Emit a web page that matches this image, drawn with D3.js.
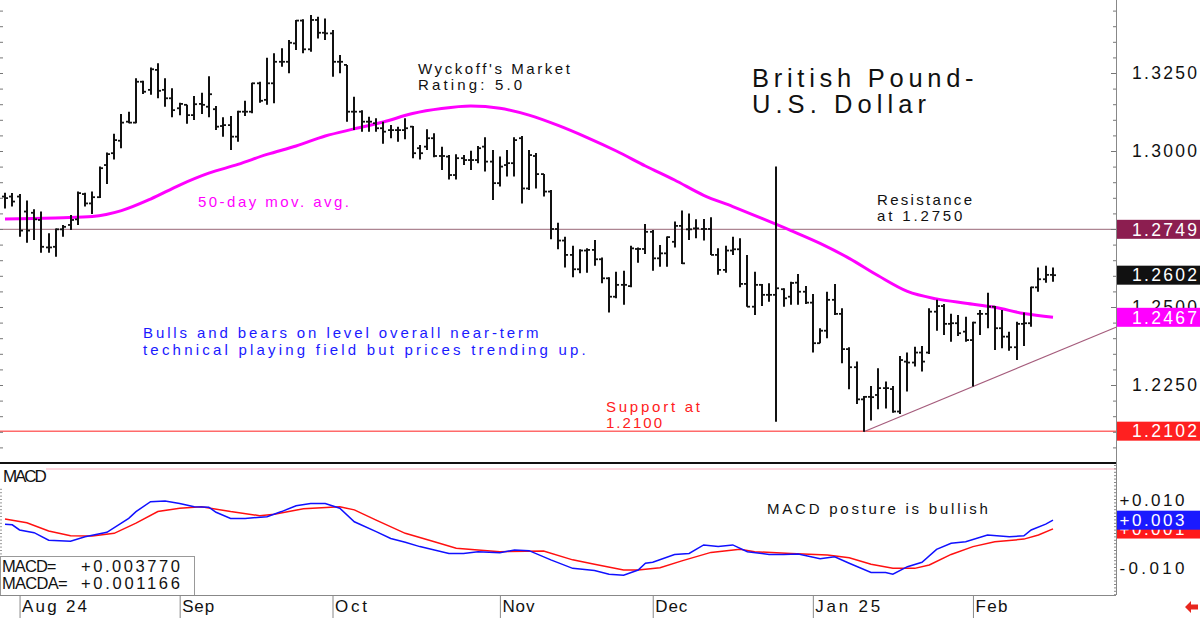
<!DOCTYPE html>
<html>
<head>
<meta charset="utf-8">
<script src="https://cdn.jsdelivr.net/npm/d3@7"></script>
<style>
  body { margin: 0; background: #fff; }
  svg { display: block; font-family: "Liberation Sans", Arial, sans-serif; }
</style>
</head>
<body>
<svg id="chart" width="1200" height="618"></svg>
<script>
// daily GBP/USD bars, one per trading day (index 0 = Jul 30 2024)
const opens = [1.2854,1.2854,1.2854,1.2806,1.2802,1.2779,1.2691,1.2693,1.2749,1.2763,
  1.2781,1.2862,1.2832,1.2852,1.2955,1.2993,1.3033,1.3094,1.3091,1.3222,
  1.3196,1.3260,1.3196,1.3169,1.3137,1.3148,1.3115,1.3151,1.3142,1.3134,
  1.3080,1.3083,1.3046,1.3126,1.3126,1.3217,1.3164,1.3217,1.3286,1.3286,
  1.3345,1.3418,1.3326,1.3420,1.3379,1.3377,1.3286,1.3276,1.3126,1.3126,
  1.3094,1.3089,1.3073,1.3067,1.3067,1.3067,1.3078,1.3009,1.3014,1.3041,
  1.2984,1.2982,1.2923,1.2977,1.2971,1.2971,1.3014,1.2966,1.2897,1.2955,
  1.2961,1.3041,1.2880,1.2984,1.2926,1.2870,1.2750,1.2713,1.2667,1.2621,
  1.2681,1.2683,1.2653,1.2592,1.2533,1.2571,1.2567,1.2686,1.2686,1.2741,
  1.2656,1.2672,1.2709,1.2760,1.2749,1.2752,1.2750,1.2750,1.2667,1.2619,
  1.2681,1.2685,1.2574,1.2501,1.2571,1.2539,1.2539,1.2557,1.2533,1.2578,
  1.2549,1.2514,1.2384,1.2424,1.2523,1.2478,1.2365,1.2307,1.2204,1.2212,
  1.2218,1.2240,1.2237,1.2165,1.2325,1.2322,1.2354,1.2354,1.2485,1.2503,
  1.2446,1.2448,1.2421,1.2394,1.2478,1.2478,1.2501,1.2432,1.2405,1.2371,
  1.2446,1.2448,1.2563,1.2589,1.2603];
const highs = [1.2866,1.2865,1.2862,1.2841,1.2813,1.2806,1.2736,1.2752,1.2763,1.2795,
  1.2870,1.2866,1.2870,1.2950,1.2995,1.3055,1.3119,1.3126,1.3233,1.3225,
  1.3268,1.3281,1.3233,1.3201,1.3155,1.3148,1.3176,1.3187,1.3240,1.3144,
  1.3108,1.3112,1.3129,1.3161,1.3219,1.3222,1.3299,1.3313,1.3329,1.3356,
  1.3420,1.3422,1.3436,1.3430,1.3425,1.3388,1.3308,1.3276,1.3174,1.3131,
  1.3110,1.3105,1.3094,1.3083,1.3078,1.3105,1.3080,1.3019,1.3070,1.3057,
  1.3014,1.2987,1.2990,1.2987,1.3001,1.3016,1.3044,1.3003,1.2982,1.3003,
  1.3044,1.3048,1.3003,1.2994,1.2926,1.2875,1.2770,1.2725,1.2696,1.2685,
  1.2688,1.2715,1.2659,1.2595,1.2613,1.2616,1.2696,1.2691,1.2766,1.2747,
  1.2699,1.2726,1.2774,1.2809,1.2800,1.2781,1.2782,1.2788,1.2688,1.2696,
  1.2725,1.2720,1.2667,1.2613,1.2574,1.2576,1.2950,1.2560,1.2581,1.2606,
  1.2567,1.2542,1.2432,1.2549,1.2574,1.2496,1.2371,1.2325,1.2215,1.2247,
  1.2304,1.2261,1.2247,1.2343,1.2354,1.2373,1.2375,1.2496,1.2523,1.2510,
  1.2478,1.2474,1.2469,1.2453,1.2490,1.2546,1.2503,1.2490,1.2421,1.2453,
  1.2482,1.2565,1.2627,1.2632,1.2627];
const lows = [1.2816,1.2822,1.2725,1.2706,1.2715,1.2674,1.2674,1.2661,1.2725,1.2747,
  1.2763,1.2822,1.2798,1.2849,1.2894,1.2973,1.3009,1.3089,1.3089,1.3183,
  1.3180,1.3169,1.3142,1.3108,1.3115,1.3087,1.3099,1.3119,1.3108,1.3067,
  1.3046,1.3003,1.3030,1.3112,1.3121,1.3155,1.3148,1.3153,1.3270,1.3249,
  1.3324,1.3313,1.3318,1.3361,1.3356,1.3238,1.3249,1.3094,1.3067,1.3062,
  1.3062,1.3062,1.3023,1.3041,1.3030,1.3038,1.2977,1.2973,1.3003,1.2980,
  1.2939,1.2909,1.2909,1.2955,1.2939,1.2961,1.2934,1.2843,1.2886,1.2918,
  1.2918,1.2832,1.2875,1.2880,1.2854,1.2717,1.2685,1.2627,1.2595,1.2608,
  1.2610,1.2632,1.2576,1.2482,1.2528,1.2507,1.2563,1.2642,1.2670,1.2616,
  1.2629,1.2629,1.2691,1.2638,1.2715,1.2720,1.2713,1.2667,1.2603,1.2610,
  1.2667,1.2563,1.2501,1.2474,1.2503,1.2517,1.2132,1.2501,1.2507,1.2507,
  1.2510,1.2354,1.2384,1.2400,1.2474,1.2320,1.2236,1.2189,1.2100,1.2136,
  1.2172,1.2175,1.2161,1.2157,1.2229,1.2309,1.2293,1.2349,1.2424,1.2410,
  1.2389,1.2407,1.2389,1.2245,1.2410,1.2432,1.2362,1.2368,1.2360,1.2330,
  1.2375,1.2437,1.2549,1.2578,1.2581];
const closes = [1.2849,1.2838,1.2745,1.2745,1.2781,1.2693,1.2691,1.2749,1.2757,1.2779,
  1.2865,1.2832,1.2852,1.2945,1.2990,1.3035,1.3091,1.3091,1.3222,1.3190,
  1.3262,1.3193,1.3169,1.3131,1.3151,1.3115,1.3150,1.3148,1.3182,1.3078,
  1.3083,1.3046,1.3126,1.3126,1.3217,1.3161,1.3217,1.3286,1.3286,1.3347,
  1.3418,1.3326,1.3420,1.3379,1.3377,1.3286,1.3286,1.3126,1.3126,1.3094,
  1.3094,1.3073,1.3062,1.3067,1.3067,1.3073,1.2993,1.2993,1.3041,1.2984,
  1.2984,1.2923,1.2977,1.2971,1.2971,1.3009,1.2966,1.2897,1.2950,1.2961,
  1.3035,1.2880,1.2987,1.2926,1.2870,1.2750,1.2713,1.2667,1.2621,1.2681,
  1.2683,1.2653,1.2592,1.2533,1.2571,1.2571,1.2688,1.2686,1.2741,1.2656,
  1.2672,1.2724,1.2760,1.2640,1.2749,1.2752,1.2750,1.2667,1.2619,1.2681,
  1.2685,1.2574,1.2501,1.2571,1.2539,1.2539,1.2560,1.2528,1.2577,1.2549,
  1.2514,1.2384,1.2424,1.2523,1.2478,1.2365,1.2307,1.2204,1.2212,1.2211,
  1.2240,1.2240,1.2165,1.2330,1.2322,1.2354,1.2325,1.2485,1.2503,1.2446,
  1.2448,1.2416,1.2394,1.2450,1.2478,1.2501,1.2432,1.2405,1.2371,1.2446,
  1.2448,1.2563,1.2589,1.2603,1.2602];

// 50-day moving average, read every 4th bar
const maIdx = [0,4,8,12,16,20,24,28,32,36,40,44,48,52,56,60,64,68,72,76,80,84,88,92,96,100,104,108,112,116,120,124,128,132,136,140,144];
const maVals = [1.2782,1.2784,1.2786,1.2790,1.2809,1.2846,1.2891,1.2929,1.2957,1.2989,1.3016,1.3048,1.3071,1.3093,1.3120,1.3136,1.3144,1.3137,1.3115,1.3082,1.3043,1.3000,1.2952,1.2907,1.2858,1.2822,1.2784,1.2745,1.2704,1.2656,1.2600,1.2550,1.2526,1.2512,1.2499,1.2479,1.2467];

const macdIdx = [0,1,2,4,6,9,11,14,17,18,20,22,24,26,28,29,31,33,36,38,40,42,44,46,48,51,53,55,57,61,63,65,68,70,72,75,78,81,83,85,87,88,89,92,94,96,98,100,102,105,107,109,112,114,116,119,121,122,124,126,128,130,132,135,138,140,141,143,144];
const macdVals = [0.0026,0.0024,0.0009,0.0001,-0.0021,-0.0024,-0.0011,0.0002,0.0043,0.0063,0.0092,0.0094,0.0087,0.0077,0.0076,0.0061,0.0043,0.0043,0.0048,0.0063,0.0080,0.0087,0.0087,0.0073,0.0033,0.0004,-0.0016,-0.0027,-0.0040,-0.0060,-0.0060,-0.0055,-0.0058,-0.0050,-0.0052,-0.0079,-0.0104,-0.0110,-0.0121,-0.0124,-0.0109,-0.0089,-0.0086,-0.0063,-0.0060,-0.0035,-0.0040,-0.0035,-0.0055,-0.0063,-0.0063,-0.0062,-0.0076,-0.0070,-0.0089,-0.0116,-0.0116,-0.0121,-0.0099,-0.0086,-0.0048,-0.0030,-0.0026,-0.0006,-0.0011,-0.0008,0.0009,0.0026,0.0038];
const signalIdx = [0,3,6,9,12,15,18,21,24,27,31,35,37,41,46,48,51,55,59,62,68,74,78,81,85,87,90,93,97,101,103,108,113,116,119,122,125,127,130,133,136,140,142,144];
const signalVals = [0.0041,0.0030,0.0006,-0.0008,-0.0009,-0.0001,0.0029,0.0063,0.0073,0.0077,0.0063,0.0051,0.0055,0.0071,0.0077,0.0068,0.0038,-0.0001,-0.0026,-0.0045,-0.0055,-0.0053,-0.0079,-0.0092,-0.0109,-0.0109,-0.0102,-0.0082,-0.0057,-0.0048,-0.0055,-0.0060,-0.0065,-0.0073,-0.0092,-0.0104,-0.0104,-0.0094,-0.0063,-0.0040,-0.0026,-0.0018,-0.0006,0.0012];

const monthIdx = [2, 24, 45, 68, 89, 111, 133];
const monthLabels = ["Aug 24", "Sep", "Oct", "Nov", "Dec", "Jan 25", "Feb"];
const priceTicks = [1.225, 1.25, 1.275, 1.3, 1.325];
const macdTicks = [-0.01, 0.01];

const resistance = 1.2749;
const support = 1.2102;
const trendPts = [[118, 1.2100], [133, 1.2245]];
const lastClose = 1.2602;
const lastMa = 1.2467;
const lastMacd = 0.003770;
const lastMacda = 0.001166;

class PoundChart {

    constructor() {
        this.svg = d3.select("#chart");
        this.right = 1116;
        this.mainBottom = 463;
        this.macdBottom = 595;

        this.x = d3.scaleLinear().domain([0, 144]).range([5, 1053]);
        this.y = d3.scaleLinear().domain([1.2, 1.3484]).range([this.mainBottom, 0]);
        this.m = d3.scaleLinear().domain([-0.01, 0.01]).range([567, 499]);

        this.svg.append("rect").attr("width", 1200).attr("height", 618).attr("fill", "#fff");
        this.drawLevels();
        this.drawBars();
        this.drawNotes();
        this.drawPriceAxis();
        this.drawMacd();
        this.drawTimeAxis();
    }

    note(str, x, y, size, cell, color) {
        this.svg.append("text")
            .attr("x", x).attr("y", y).attr("fill", color)
            .style("font-size", size + "px")
            .attr("textLength", str.length * cell - 1).attr("lengthAdjust", "spacing")
            .text(str);
    }

    // one axis per group, so a second call cannot wipe the ticks of the first
    tickGroup(axis, tx, color) {
        let g = this.svg.append("g").attr("transform", `translate(${tx},0)`).attr("color", color);
        g.call(axis);
        g.select(".domain").remove();
        g.attr("font-family", null).attr("font-size", null);
        return g;
    }

    drawLevels() {
        let g = this.svg.append("g");
        g.append("line").attr("x1", 0).attr("x2", this.right)
            .attr("y1", this.y(resistance)).attr("y2", this.y(resistance))
            .attr("stroke", "#ad8592").attr("stroke-width", 1.2);
        g.append("line").attr("x1", 0).attr("x2", this.right)
            .attr("y1", this.y(support)).attr("y2", this.y(support))
            .attr("stroke", "#ff6a6a").attr("stroke-width", 1.5);

        // trend line through the two lows, run out to the price axis
        let [a, b] = trendPts;
        let slope = (b[1] - a[1]) / (b[0] - a[0]);
        let endIdx = this.x.invert(this.right);
        g.append("line")
            .attr("x1", this.x(a[0])).attr("y1", this.y(a[1]))
            .attr("x2", this.right).attr("y2", this.y(a[1] + slope * (endIdx - a[0])))
            .attr("stroke", "#a55c7c").attr("stroke-width", 1.2);

        let ma = d3.line().x(d => this.x(d[0])).y(d => this.y(d[1])).curve(d3.curveMonotoneX);
        g.append("path").datum(d3.zip(maIdx, maVals))
            .attr("d", ma).attr("fill", "none")
            .attr("stroke", "#ff00ff").attr("stroke-width", 3);
    }

    drawBars() {
        let bars = opens.map((o, i) => ({i: i, o: o, h: highs[i], l: lows[i], c: closes[i]}));
        let g = this.svg.append("g").attr("stroke", "#111");
        let px = d => Math.round(this.x(d.i));
        g.selectAll("line.hl").data(bars).join("line").attr("class", "hl")
            .attr("x1", px).attr("x2", px)
            .attr("y1", d => this.y(d.h)).attr("y2", d => this.y(d.l))
            .attr("stroke-width", 2);
        g.selectAll("line.op").data(bars).join("line").attr("class", "op")
            .attr("x1", d => px(d) - 3).attr("x2", px)
            .attr("y1", d => this.y(d.o)).attr("y2", d => this.y(d.o))
            .attr("stroke-width", 1.8);
        g.selectAll("line.cl").data(bars).join("line").attr("class", "cl")
            .attr("x1", px).attr("x2", d => px(d) + 3)
            .attr("y1", d => this.y(d.c)).attr("y2", d => this.y(d.c))
            .attr("stroke-width", 1.8);
    }

    drawNotes() {
        this.note("Wyckoff's Market", 418, 74, 15, 9.56, "#111");
        this.note("Rating: 5.0", 418, 90, 15, 9.56, "#111");
        this.note("British Pound-", 752, 87, 25.5, 15.9, "#111");
        this.note("U.S. Dollar", 752, 113, 25.5, 15.9, "#111");
        this.note("50-day mov. avg.", 198, 207, 15, 9.5, "#ff00ff");
        this.note("Resistance", 877, 205, 15, 9.6, "#111");
        this.note("at 1.2750", 877, 221, 15, 9.6, "#111");
        this.note("Bulls and bears on level overall near-term", 143, 338, 15, 9.44, "#1a1aff");
        this.note("technical playing field but prices trending up.", 143, 355, 15, 9.44, "#1a1aff");
        this.note("Support at", 606, 412, 15, 9.5, "#ff2020");
        this.note("1.2100", 606, 428, 15, 9.5, "#ff2020");
    }

    drawPriceAxis() {
        let minor = d3.range(240, 270).map(k => k * 0.005);
        this.tickGroup(d3.axisLeft(this.y).tickValues(minor).tickSize(3).tickFormat(""), this.right, "#777");
        this.tickGroup(d3.axisLeft(this.y).tickValues(priceTicks).tickSize(5).tickFormat(""), this.right, "#777");
        let labels = this.tickGroup(d3.axisRight(this.y).tickValues(priceTicks).tickSize(0)
            .tickFormat(d3.format(".4f")), this.right, "#111");
        labels.selectAll("text").attr("x", 81).attr("text-anchor", "end").attr("fill", "#111")
            .style("font-size", "17.5px").attr("textLength", 65).attr("lengthAdjust", "spacing");
        this.tickGroup(d3.axisRight(this.y).tickValues(minor).tickSize(3).tickFormat(""), 0, "#777");

        this.svg.append("line").attr("x1", this.right + 0.5).attr("x2", this.right + 0.5)
            .attr("y1", 0).attr("y2", this.macdBottom).attr("stroke", "#888");

        let boxes = [
            {v: resistance, fill: "#8c1e50"},
            {v: lastClose, fill: "#111"},
            {v: lastMa, fill: "#ff00ff"},
            {v: support, fill: "#ff2020"}
        ];
        let bg = this.svg.append("g");
        bg.selectAll("rect").data(boxes).join("rect")
            .attr("x", this.right + 1).attr("width", 84)
            .attr("y", d => this.y(d.v) - 9.5).attr("height", 19)
            .attr("fill", d => d.fill);
        bg.selectAll("text").data(boxes).join("text")
            .attr("x", 1197).attr("y", d => this.y(d.v) + 6.3)
            .attr("text-anchor", "end").attr("fill", "#fff")
            .style("font-size", "17.5px").attr("textLength", 65).attr("lengthAdjust", "spacing")
            .text(d => d3.format(".4f")(d.v));

        this.svg.append("line").attr("x1", 0).attr("x2", this.right)
            .attr("y1", this.mainBottom).attr("y2", this.mainBottom)
            .attr("stroke", "#111").attr("stroke-width", 2);
    }

    drawMacd() {
        let sign = d => (d >= 0 ? "+" : "-") + (Math.trunc(Math.abs(d) * 1000) / 1000).toFixed(3);
        this.svg.append("line").attr("x1", 46).attr("x2", this.right)
            .attr("y1", 469).attr("y2", 469)
            .attr("stroke", "#ffc9d3").attr("stroke-width", 1.5);
        this.note("MACD", 3, 482, 17, 11.2, "#111");

        let line = d3.line().x(d => this.x(d[0])).y(d => this.m(d[1]));
        this.svg.append("path").datum(d3.zip(signalIdx, signalVals))
            .attr("d", line).attr("fill", "none").attr("stroke", "#ff1010").attr("stroke-width", 1.5);
        this.svg.append("path").datum(d3.zip(macdIdx, macdVals))
            .attr("d", line).attr("fill", "none").attr("stroke", "#1010ff").attr("stroke-width", 1.5);

        let fine = d3.range(-18, 21).map(k => k * 0.001);
        this.tickGroup(d3.axisLeft(this.m).tickValues(fine).tickSize(2).tickFormat(""), this.right, "#888");
        let labels = this.tickGroup(d3.axisRight(this.m).tickValues(macdTicks).tickSize(0).tickFormat(sign), this.right, "#111");
        labels.selectAll("text").attr("x", 3.5).attr("dy", "0.38em").attr("fill", "#111")
            .style("font-size", "17px").attr("textLength", 65).attr("lengthAdjust", "spacing");
        this.tickGroup(d3.axisRight(this.m).tickValues(d3.range(-6, 14).map(k => k * 0.001))
            .tickSize(2).tickFormat(""), 0, "#999");

        let boxes = [{v: lastMacda, fill: "#ff1a1a"}, {v: lastMacd, fill: "#1a1aff"}];
        for (let b of boxes) {
            this.svg.append("rect").attr("x", this.right + 1).attr("width", 84)
                .attr("y", this.m(b.v) - 9.5).attr("height", 19).attr("fill", b.fill);
            this.svg.append("text").attr("x", this.right + 3.5).attr("y", this.m(b.v) + 6.3)
                .attr("fill", "#fff").style("font-size", "17px")
                .attr("textLength", 65).attr("lengthAdjust", "spacing").text(sign(b.v));
        }

        this.note("MACD posture is bullish", 767, 514, 15, 9.65, "#111");

        this.svg.append("rect").attr("x", 0.5).attr("y", 556.5).attr("width", 194).attr("height", 39)
            .attr("fill", "#fff").attr("stroke", "#999");
        this.note("MACD=", 2, 572, 16.5, 11.1, "#111");
        this.note("MACDA=", 2, 589, 16.5, 11.1, "#111");
        this.note("+" + lastMacd.toFixed(6), 81, 572, 16.5, 11.1, "#111");
        this.note("+" + lastMacda.toFixed(6), 81, 589, 16.5, 11.1, "#111");
    }

    drawTimeAxis() {
        this.svg.append("line").attr("x1", 0).attr("x2", this.right)
            .attr("y1", this.macdBottom + 0.5).attr("y2", this.macdBottom + 0.5).attr("stroke", "#888");
        let ax = this.svg.append("g").attr("transform", `translate(0,${this.macdBottom})`).attr("color", "#888");
        ax.call(d3.axisBottom(this.x).tickValues(monthIdx).tickSize(23).tickFormat(""));
        ax.selectAll(".domain").remove();

        this.svg.append("g").selectAll("text").data(monthIdx).join("text")
            .attr("x", d => this.x(d) + 2.5).attr("y", 612).attr("fill", "#111")
            .style("font-size", "17px")
            .attr("textLength", (d, k) => monthLabels[k].length * 11 - 1).attr("lengthAdjust", "spacing")
            .text((d, k) => monthLabels[k]);

        this.svg.append("path")
            .attr("d", "M1185,607 L1191,601 L1191,604.5 L1198,604.5 L1198,609.5 L1191,609.5 L1191,613 Z")
            .attr("fill", "#e8261e");
    }
}

new PoundChart();
</script>
</body>
</html>
